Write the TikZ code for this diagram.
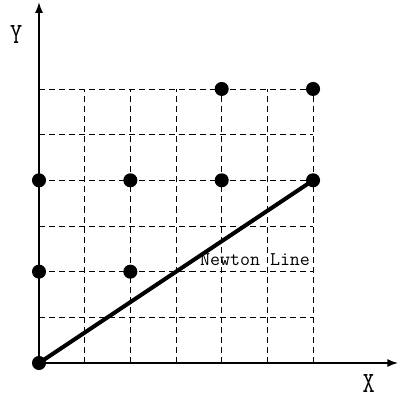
\documentclass[tikz,border=0pt]{standalone}
\usepackage{tikz}
\usetikzlibrary{arrows.meta}

\begin{document}
\begin{tikzpicture}[
  x=1.2cm, y=1.2cm,
  gridline/.style={draw, dash pattern=on 4.5pt off 3pt, line width=0.7pt},
  axis/.style={draw, line width=1.1pt, -{Latex[length=8pt,width=6pt]}},
  dot/.style={circle, fill=black, inner sep=0pt, minimum size=10.5pt},
  newton/.style={draw, line width=3pt},
  axlabel/.style={font=\ttfamily\fontsize{22}{24}\selectfont, xscale=0.8},
  linelabel/.style={font=\ttfamily\fontsize{14.5}{16}\selectfont, inner sep=0pt}
]
\useasboundingbox (-0.854,-0.810) rectangle (7.883,7.948);
% dashed grid
\draw[gridline, step=1.2cm] (0,0) grid (6,6);
% axes
\coordinate (o) at (0,0);
\coordinate (xend) at (7.86,0);
\coordinate (yend) at (0,7.90);
\draw[axis] (o) -- (xend);
\draw[axis] (o) -- (yend);
\node[axlabel] (xlab) at (7.22,-0.44) {X};
\node[axlabel] (ylab) at (-0.50,7.20) {Y};
% points
\node[dot] (p00) at (0,0) {};
\node[dot] (p02) at (0,2) {};
\node[dot] (p22) at (2,2) {};
\node[dot] (p04) at (0,4) {};
\node[dot] (p24) at (2,4) {};
\node[dot] (p44) at (4,4) {};
\node[dot] (p64) at (6,4) {};
\node[dot] (p46) at (4,6) {};
\node[dot] (p66) at (6,6) {};
% newton line
\draw[newton] (p00.center) -- (p64.center);
\node[linelabel, anchor=base] (nl) at (4.73,2.13) {Newton Line};
\end{tikzpicture}
\end{document}
